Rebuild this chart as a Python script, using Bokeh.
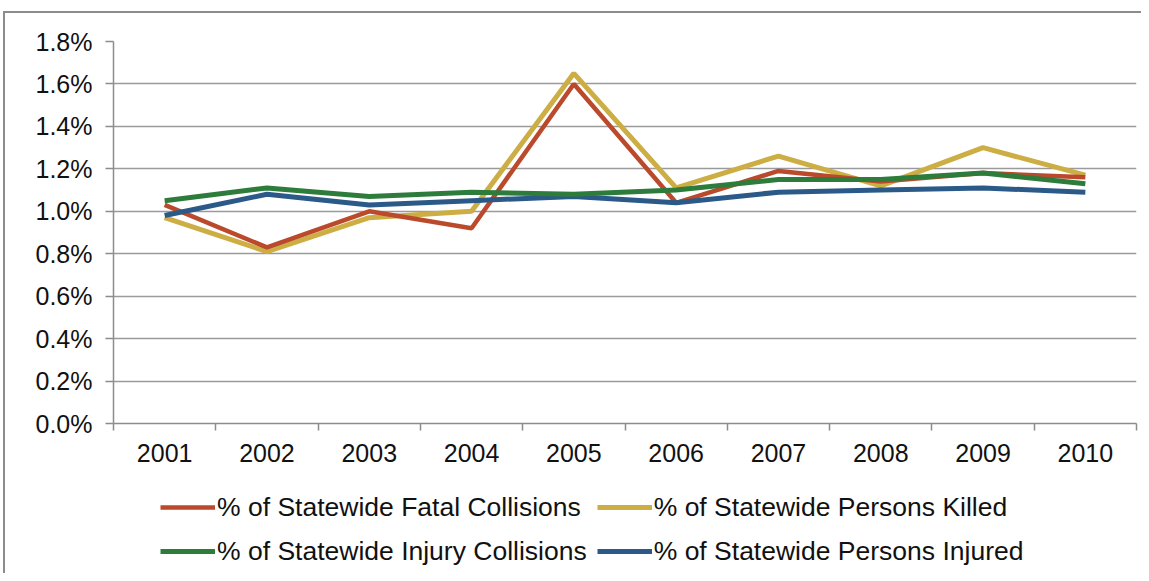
from bokeh.plotting import figure
from bokeh.layouts import column
from bokeh.models import Range1d, FixedTicker, PrintfTickFormatter, Legend, LegendItem
from bokeh.embed import file_html
from bokeh.resources import INLINE

YEARS = [2001, 2002, 2003, 2004, 2005, 2006, 2007, 2008, 2009, 2010]
FATAL_COLLISIONS = [1.03, 0.83, 1.00, 0.92, 1.60, 1.04, 1.19, 1.14, 1.18, 1.16]
PERSONS_KILLED = [0.97, 0.81, 0.97, 1.00, 1.65, 1.11, 1.26, 1.12, 1.30, 1.17]
INJURY_COLLISIONS = [1.05, 1.11, 1.07, 1.09, 1.08, 1.10, 1.15, 1.15, 1.18, 1.13]
PERSONS_INJURED = [0.98, 1.08, 1.03, 1.05, 1.07, 1.04, 1.09, 1.10, 1.11, 1.09]
Y_TICKS = [0.0, 0.2, 0.4, 0.6, 0.8, 1.0, 1.2, 1.4, 1.6, 1.8]
LABELS = ["% of Statewide Fatal Collisions", "% of Statewide Persons Killed",
          "% of Statewide Injury Collisions", "% of Statewide Persons Injured"]

FONT = "Liberation Sans"
COLORS = ["#BA4A2B", "#CCAE45", "#2D7C3B", "#2B5A89"]
WIDTHS = [4.5, 5, 5, 5]
SERIES = [FATAL_COLLISIONS, PERSONS_KILLED, INJURY_COLLISIONS, PERSONS_INJURED]

W = 1136
H_CHART = 470
H_LEGEND = 90

p = figure(width=W, height=H_CHART, output_backend="svg", toolbar_location=None,
           x_range=Range1d(YEARS[0] - 0.5, YEARS[-1] + 0.5), y_range=Range1d(Y_TICKS[0], Y_TICKS[-1]),
           min_border_left=108, min_border_top=28, min_border_right=5, min_border_bottom=60)
p.outline_line_color = None
p.background_fill_color = "white"
p.border_fill_color = "white"

# grid
p.xgrid.grid_line_color = None
p.ygrid.grid_line_color = "#9a9a9a"
p.ygrid.grid_line_width = 1.5
p.ygrid.ticker = FixedTicker(ticks=Y_TICKS)

# y axis
p.yaxis.ticker = FixedTicker(ticks=Y_TICKS)
p.yaxis.formatter = PrintfTickFormatter(format="%.1f%%")
p.yaxis.axis_line_color = "#8c8c8c"
p.yaxis.axis_line_width = 1.5
p.yaxis.major_tick_line_color = "#8c8c8c"
p.yaxis.major_tick_line_width = 1.5
p.yaxis.major_tick_out = 8
p.yaxis.major_tick_in = 0
p.yaxis.minor_tick_line_color = None
p.yaxis.major_label_standoff = 13
p.yaxis.major_label_text_font = FONT
p.yaxis.major_label_text_font_size = "25px"
p.yaxis.major_label_text_color = "#111111"

# x axis
minor = [y - 0.5 for y in YEARS] + [YEARS[-1] + 0.5]
p.xaxis.ticker = FixedTicker(ticks=YEARS, minor_ticks=minor)
p.xaxis.axis_line_color = "#8c8c8c"
p.xaxis.axis_line_width = 1.5
p.xaxis.major_tick_line_color = None
p.xaxis.major_tick_out = 0
p.xaxis.major_tick_in = 0
p.xaxis.minor_tick_line_color = "#8c8c8c"
p.xaxis.minor_tick_line_width = 1.5
p.xaxis.minor_tick_out = 7
p.xaxis.minor_tick_in = 0
p.xaxis.major_label_standoff = 13
p.xaxis.major_label_text_font = FONT
p.xaxis.major_label_text_font_size = "25px"
p.xaxis.major_label_text_color = "#111111"

# draw order: killed, fatal, injured, injury
for i in [1, 0, 3, 2]:
    p.line(YEARS, SERIES[i], line_color=COLORS[i], line_width=WIDTHS[i])

# legend figure (same series, kept out of its view; only the legend shows)
lg = figure(width=W, height=H_LEGEND, output_backend="svg", toolbar_location=None,
            x_axis_location=None, y_axis_location=None,
            x_range=Range1d(YEARS[0] - 0.5, YEARS[-1] + 0.5), y_range=Range1d(10, 11),
            min_border_left=0, min_border_right=0, min_border_top=0, min_border_bottom=0)
lg.outline_line_color = None
lg.grid.visible = False
lg.background_fill_color = "white"
lg.border_fill_color = "white"
rs = [lg.line(YEARS, SERIES[i], line_color=COLORS[i], line_width=WIDTHS[i]) for i in range(4)]

# column-major fill with 2 columns: order so that row 1 = items 0,1 and row 2 = items 2,3
order = [0, 2, 1, 3]
legend = Legend(items=[LegendItem(label=LABELS[i], renderers=[rs[i]]) for i in order],
                ncols=2, location=(47, 5), padding=0, margin=0, spacing=10,
                glyph_width=55, glyph_height=34, label_height=34, label_standoff=2,
                label_text_font=FONT, label_text_font_size="26.5px", label_text_color="#111111",
                border_line_color=None, background_fill_alpha=0)
lg.add_layout(legend, "center")

layout = column(p, lg, spacing=0)
layout.styles = {"position": "relative", "top": "11px", "left": "3px",
                 "border-left": "2px solid #8c8c8c", "border-top": "2px solid #8c8c8c"}

open("out.html", "w").write(file_html(layout, INLINE))
